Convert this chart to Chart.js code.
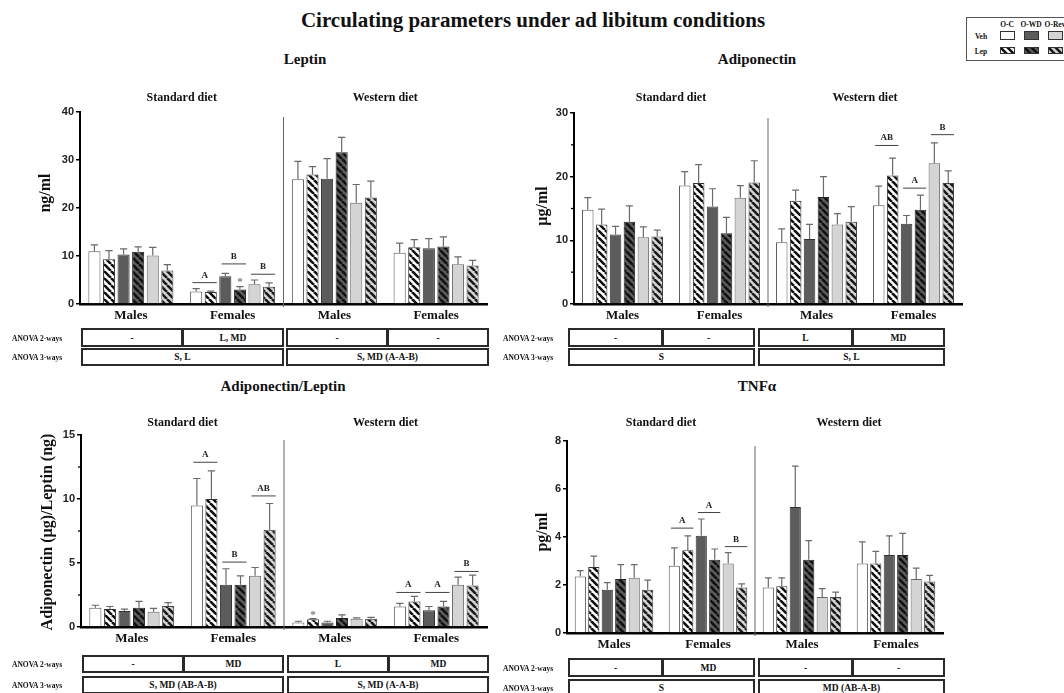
<!DOCTYPE html>
<html><head><meta charset="utf-8">
<script src="https://cdn.jsdelivr.net/npm/chart.js@4.4.1/dist/chart.umd.min.js"></script>
<style>
body{margin:0;background:#fff;}
#root{position:relative;width:1064px;height:693px;overflow:hidden;background:#fff;font-family:'Liberation Serif','Times New Roman',serif;color:#111;}
.t{position:absolute;transform:translate(-50%,-50%);white-space:nowrap;font-weight:bold;}
.yl{position:absolute;transform:translate(-50%,-50%) rotate(-90deg);white-space:nowrap;font-weight:bold;}
canvas{position:absolute;}
.box{position:absolute;border:2px solid #2a2a2a;box-sizing:border-box;display:flex;align-items:center;justify-content:center;font-weight:bold;font-size:9.5px;background:#fff;}
.rl{position:absolute;transform:translateY(-50%);font-weight:bold;font-size:7.5px;white-space:nowrap;}
</style></head><body><div id="root"></div>
<script>
// ---------- categories & series ----------
const categories = ['Males', 'Females', 'Males', 'Females'];
const seriesNames = ['O-C Veh', 'O-C Lep', 'O-WD Veh', 'O-WD Lep', 'O-Rev Veh', 'O-Rev Lep'];
const dietHeaders = ['Standard diet', 'Western diet'];

// ---------- Leptin (ng/ml) rows = series, cols = categories ----------
const leptinMean = [
  [11.0, 2.6, 26.0, 10.7],
  [9.3, 2.5, 27.0, 11.8],
  [10.3, 5.8, 26.1, 11.6],
  [10.9, 3.0, 31.6, 12.0],
  [10.1, 4.1, 21.1, 8.3],
  [7.0, 3.6, 22.2, 8.0]
];
const leptinSEM = [
  [1.3, 0.6, 3.7, 2.0],
  [1.8, 0.2, 1.6, 1.6],
  [1.2, 0.6, 4.2, 2.0],
  [1.0, 0.6, 3.1, 2.0],
  [1.7, 0.9, 3.8, 1.5],
  [1.2, 0.8, 3.4, 1.1]
];
const leptinLetters = [[1, 0, 1, 4.45, 'A'], [1, 2, 3, 8.35, 'B'], [1, 4, 5, 6.2, 'B']];
const leptinStars = [[1, 3, 4.9]];
const leptinAnova2 = ['-', 'L, MD', '-', '-'];
const leptinAnova3 = ['S, L', 'S, MD (A-A-B)'];

// ---------- Adiponectin (µg/ml) ----------
const adipoMean = [
  [14.8, 18.6, 9.7, 15.5],
  [12.5, 19.0, 16.2, 20.2],
  [10.9, 15.3, 10.2, 12.6],
  [12.9, 11.1, 16.8, 14.8],
  [10.5, 16.7, 12.5, 22.1],
  [10.6, 19.1, 12.9, 19.0]
];
const adipoSEM = [
  [1.9, 2.2, 2.1, 3.0],
  [2.4, 2.9, 1.7, 2.7],
  [1.3, 2.8, 2.3, 1.3],
  [2.5, 2.5, 3.2, 2.3],
  [1.6, 1.9, 1.7, 3.2],
  [1.0, 3.4, 2.4, 1.9]
];
const adipoLetters = [[3, 0, 1, 24.9, 'AB'], [3, 2, 3, 18.2, 'A'], [3, 4, 5, 26.6, 'B']];
const adipoStars = [];
const adipoAnova2 = ['-', '-', 'L', 'MD'];
const adipoAnova3 = ['S', 'S, L'];

// ---------- Adiponectin/Leptin ----------
const ratioMean = [
  [1.5, 9.5, 0.35, 1.6],
  [1.4, 10.0, 0.6, 2.0],
  [1.25, 3.3, 0.35, 1.3],
  [1.5, 3.3, 0.7, 1.6],
  [1.2, 4.0, 0.65, 3.3],
  [1.65, 7.6, 0.65, 3.25]
];
const ratioSEM = [
  [0.2, 2.1, 0.1, 0.25],
  [0.2, 2.2, 0.05, 0.4],
  [0.15, 1.25, 0.1, 0.3],
  [0.5, 0.7, 0.25, 0.4],
  [0.25, 0.65, 0.07, 0.6],
  [0.25, 2.05, 0.1, 0.8]
];
const ratioLetters = [[1, 0, 1, 12.87, 'A'], [1, 2, 3, 5.07, 'B'], [1, 4, 5, 10.24, 'AB'],
                      [3, 0, 1, 2.7, 'A'], [3, 2, 3, 2.7, 'A'], [3, 4, 5, 4.34, 'B']];
const ratioStars = [[2, 1, 1.1]];
const ratioAnova2 = ['-', 'MD', 'L', 'MD'];
const ratioAnova3 = ['S, MD (AB-A-B)', 'S, MD (A-A-B)'];

// ---------- TNFα (pg/ml) ----------
const tnfMean = [
  [2.35, 2.8, 1.9, 2.9],
  [2.75, 3.45, 1.95, 2.9],
  [1.8, 4.05, 5.25, 3.25],
  [2.25, 3.05, 3.05, 3.25],
  [2.3, 2.9, 1.5, 2.25],
  [1.8, 1.9, 1.5, 2.15]
];
const tnfSEM = [
  [0.25, 0.75, 0.4, 0.9],
  [0.45, 0.6, 0.35, 0.5],
  [0.3, 0.7, 1.7, 0.8],
  [0.6, 0.45, 0.8, 0.9],
  [0.55, 0.45, 0.35, 0.45],
  [0.4, 0.15, 0.2, 0.25]
];
const tnfLetters = [[1, 0, 1, 4.37, 'A'], [1, 2, 3, 5.02, 'A'], [1, 4, 5, 3.6, 'B']];
const tnfStars = [];
const tnfAnova2 = ['-', 'MD', '-', '-'];
const tnfAnova3 = ['S', 'MD (AB-A-B)'];

// ---------- styling ----------
const root = document.getElementById('root');
const SERIF = "'Liberation Serif','Times New Roman',serif";
const SANS = "'Liberation Sans',Arial,sans-serif";

function hatch(bg, stripe) {
  const s = 7;
  const c = document.createElement('canvas');
  c.width = s; c.height = s;
  const x = c.getContext('2d');
  x.fillStyle = bg; x.fillRect(0, 0, s, s);
  x.strokeStyle = stripe; x.lineWidth = 2.6;
  x.beginPath();
  for (const k of [-s, 0, s]) { x.moveTo(k, 0); x.lineTo(k + s, s); }
  x.stroke();
  return x.createPattern(c, 'repeat');
}
const fills = ['#ffffff', hatch('#ffffff', '#111'), '#5c5c5c', hatch('#5c5c5c', '#111'), '#d4d4d4', hatch('#d4d4d4', '#1a1a1a')];
const borders = ['#555', '#333', '#333', '#222', '#666', '#444'];

function addText(cls, txt, x, y, size, extra) {
  const d = document.createElement('div');
  d.className = cls; d.textContent = txt;
  d.style.left = x + 'px'; d.style.top = y + 'px'; d.style.fontSize = size + 'px';
  if (extra) Object.assign(d.style, extra);
  root.appendChild(d);
  return d;
}
function addBox(txt, x0, x1, y0, y1) {
  const d = document.createElement('div');
  d.className = 'box'; d.textContent = txt;
  d.style.left = x0 + 'px'; d.style.top = y0 + 'px';
  d.style.width = (x1 - x0) + 'px'; d.style.height = (y1 - y0) + 'px';
  root.appendChild(d);
}

function extrasPlugin(p) {
  return {
    id: 'extras',
    afterDatasetsDraw(chart) {
      const ctx = chart.ctx, xs = chart.scales.x, ys = chart.scales.y, a = chart.chartArea;
      ctx.save();
      // divider between diets
      const xd = (xs.getPixelForValue(1) + xs.getPixelForValue(2)) / 2;
      ctx.strokeStyle = '#666'; ctx.lineWidth = 1;
      ctx.beginPath(); ctx.moveTo(xd, a.top + 5); ctx.lineTo(xd, a.bottom + 3); ctx.stroke();
      // minor ticks
      ctx.strokeStyle = '#000'; ctx.lineWidth = 1.3;
      p.minor.forEach(v => {
        const y = ys.getPixelForValue(v);
        ctx.beginPath(); ctx.moveTo(a.left - 3, y); ctx.lineTo(a.left, y); ctx.stroke();
      });
      // error bars (upper)
      ctx.strokeStyle = '#6a6a6a'; ctx.lineWidth = 1.2;
      p.mean.forEach((row, d) => {
        const meta = chart.getDatasetMeta(d);
        meta.data.forEach((bar, i) => {
          const yt = ys.getPixelForValue(row[i] + p.sem[d][i]);
          const cw = bar.width * 0.3;
          ctx.beginPath();
          ctx.moveTo(bar.x, bar.y); ctx.lineTo(bar.x, yt);
          ctx.moveTo(bar.x - cw, yt); ctx.lineTo(bar.x + cw, yt);
          ctx.stroke();
        });
      });
      // significance letters
      ctx.fillStyle = '#222'; ctx.strokeStyle = '#444'; ctx.lineWidth = 1;
      ctx.font = 'bold 9px ' + SERIF; ctx.textAlign = 'center'; ctx.textBaseline = 'alphabetic';
      p.letters.forEach(([g, s1, s2, v, lab]) => {
        const b1 = chart.getDatasetMeta(s1).data[g], b2 = chart.getDatasetMeta(s2).data[g];
        const x1 = b1.x - b1.width * 0.3, x2 = b2.x + b2.width * 0.5;
        const y = ys.getPixelForValue(v);
        ctx.beginPath(); ctx.moveTo(x1, y); ctx.lineTo(x2, y); ctx.stroke();
        ctx.fillText(lab, (x1 + x2) / 2, y - 5);
      });
      // stars
      ctx.fillStyle = '#777'; ctx.font = 'bold 11px ' + SERIF; ctx.textBaseline = 'middle';
      p.stars.forEach(([g, s, v]) => {
        const b = chart.getDatasetMeta(s).data[g];
        ctx.fillText('*', b.x, ys.getPixelForValue(v) + 2);
      });
      // diet headers
      ctx.fillStyle = '#111'; ctx.font = 'bold 12px ' + SERIF; ctx.textBaseline = 'middle';
      ctx.fillText(dietHeaders[0], (xs.getPixelForValue(0) + xs.getPixelForValue(1)) / 2, a.top - p.hdr);
      ctx.fillText(dietHeaders[1], (xs.getPixelForValue(2) + xs.getPixelForValue(3)) / 2, a.top - p.hdr);
      ctx.restore();
    }
  };
}

function makePanel(p) {
  const YW = 46, PT = 30, PR = 8, XH = 24;
  const [L, R, T, B] = p.area;
  const cv = document.createElement('canvas');
  cv.width = R - L + YW + PR; cv.height = B - T + PT + XH;
  cv.style.left = (L - YW) + 'px'; cv.style.top = (T - PT) + 'px';
  root.appendChild(cv);
  new Chart(cv, {
    type: 'bar',
    data: {
      labels: categories,
      datasets: p.mean.map((m, i) => ({
        label: seriesNames[i], data: m,
        backgroundColor: fills[i], borderColor: borders[i], borderWidth: 1,
        categoryPercentage: 0.86, barPercentage: 0.83
      }))
    },
    options: {
      responsive: false, animation: false, devicePixelRatio: 1,
      layout: { padding: { top: PT, right: PR, left: 0, bottom: 0 } },
      plugins: { legend: { display: false }, tooltip: { enabled: false } },
      scales: {
        x: {
          grid: { display: false, drawTicks: false },
          border: { color: '#000', width: 2.5 },
          ticks: { font: { family: SERIF, weight: 'bold', size: 13 }, color: '#111', padding: 4 },
          afterFit(s) { s.height = XH; }
        },
        y: {
          min: 0, max: p.max,
          ticks: { stepSize: p.step, font: { family: SANS, weight: 'bold', size: 11 }, color: '#222', padding: 2 },
          grid: { drawOnChartArea: false, drawTicks: true, tickLength: 4, color: '#000', lineWidth: 1.5 },
          border: { color: '#000', width: 2 },
          afterFit(s) { s.width = YW; }
        }
      }
    },
    plugins: [extrasPlugin(p)]
  });
  // title & y label
  addText('t', p.title, p.titlePos[0], p.titlePos[1], 15);
  addText('yl', p.ylabel, p.ylPos[0], p.ylPos[1], 16);
  // ANOVA tables
  const [x0, xm1, x1, x2, xm2, x3] = p.tx;
  const [r1a, r1b, r2a, r2b] = p.ty;
  addBox(p.a2[0], x0, xm1 + 1, r1a, r1b);
  addBox(p.a2[1], xm1, x1, r1a, r1b);
  addBox(p.a2[2], x2, xm2 + 1, r1a, r1b);
  addBox(p.a2[3], xm2, x3, r1a, r1b);
  addBox(p.a3[0], x0, x1, r2a, r2b);
  addBox(p.a3[1], x2, x3, r2a, r2b);
  addText('rl', 'ANOVA 2-ways', p.rlx, (r1a + r1b) / 2, 7.5);
  addText('rl', 'ANOVA 3-ways', p.rlx, (r2a + r2b) / 2, 7.5);
}

// main title
addText('t', 'Circulating parameters under ad libitum conditions', 533, 20, 21);

makePanel({ title: 'Leptin', titlePos: [305, 59], ylabel: 'ng/ml', ylPos: [45, 193],
  area: [80, 487, 112, 304], max: 40, step: 10, minor: [], hdr: 14,
  mean: leptinMean, sem: leptinSEM, letters: leptinLetters, stars: leptinStars,
  a2: leptinAnova2, a3: leptinAnova3, tx: [81, 182, 284, 286, 387, 489], ty: [328, 347, 348, 366], rlx: 12 });

makePanel({ title: 'Adiponectin', titlePos: [757, 59], ylabel: 'µg/ml', ylPos: [542, 206],
  area: [574, 962, 113, 304], max: 30, step: 10, minor: [5, 15, 25], hdr: 15,
  mean: adipoMean, sem: adipoSEM, letters: adipoLetters, stars: adipoStars,
  a2: adipoAnova2, a3: adipoAnova3, tx: [568, 662, 755, 758, 852, 945], ty: [328, 347, 348, 366], rlx: 503 });

makePanel({ title: 'Adiponectin/Leptin', titlePos: [283, 386], ylabel: 'Adiponectin (µg)/Leptin (ng)', ylPos: [47, 532],
  area: [81, 487, 435, 627], max: 15, step: 5, minor: [2.5, 7.5, 12.5], hdr: 12,
  mean: ratioMean, sem: ratioSEM, letters: ratioLetters, stars: ratioStars,
  a2: ratioAnova2, a3: ratioAnova3, tx: [82, 183, 284, 287, 388, 489], ty: [655, 673, 676, 694], rlx: 12 });

makePanel({ title: 'TNFα', titlePos: [757, 386], ylabel: 'pg/ml', ylPos: [542, 532],
  area: [567, 943, 441, 633], max: 8, step: 2, minor: [], hdr: 18,
  mean: tnfMean, sem: tnfSEM, letters: tnfLetters, stars: tnfStars,
  a2: tnfAnova2, a3: tnfAnova3, tx: [568, 662, 755, 758, 852, 945], ty: [658, 677, 679, 697], rlx: 503 });

// ---------- legend ----------
(function () {
  const box = document.createElement('div');
  Object.assign(box.style, { position: 'absolute', left: '966px', top: '17px', width: '120px', height: '44px', border: '1px solid #555', boxSizing: 'border-box' });
  root.appendChild(box);
  const cols = ['O-C', 'O-WD', 'O-Rev'];
  const cx = [1007, 1031, 1055];
  cols.forEach((c, i) => addText('t', c, cx[i], 24, 7.5));
  addText('t', 'Veh', 981, 36, 7.5);
  addText('t', 'Lep', 981, 51, 7.5);
  const sx = [1000, 1024, 1048];
  for (let r = 0; r < 2; r++) {
    for (let i = 0; i < 3; i++) {
      const cv = document.createElement('canvas');
      const h = r === 0 ? 9 : 7;
      cv.width = 15; cv.height = h;
      cv.style.left = sx[i] + 'px'; cv.style.top = (r === 0 ? 31 : 47) + 'px';
      const x = cv.getContext('2d');
      x.fillStyle = fills[i * 2 + r]; x.fillRect(0, 0, 15, h);
      x.strokeStyle = '#333'; x.lineWidth = 1; x.strokeRect(0.5, 0.5, 14, h - 1);
      root.appendChild(cv);
    }
  }
})();
</script></body></html>
